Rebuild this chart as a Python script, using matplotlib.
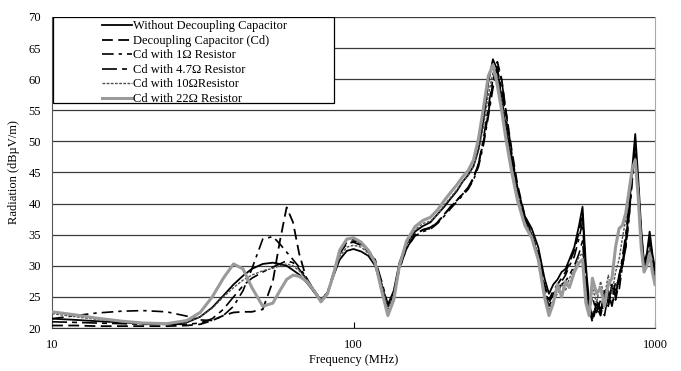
import matplotlib
matplotlib.use('Agg')
import matplotlib.pyplot as plt
from matplotlib.patches import Rectangle

plt.rcParams['font.family'] = ['Liberation Serif', 'DejaVu Serif']

# frequency points (MHz)
freq = [10, 12, 14, 17, 20, 24, 28, 31, 34, 37, 40, 43, 46, 50, 54, 57, 60, 63, 66, 70,
        74, 78, 82, 86, 90, 95, 100, 106, 112, 118, 124, 130, 136, 142, 150, 160, 170, 180,
        190, 200, 210, 220, 230, 240, 250, 260, 270, 280, 290, 300, 310, 320, 335, 350, 370,
        390, 410, 430, 445, 460, 475, 490, 505, 520, 540, 560, 575, 590, 605, 620, 640, 660,
        680, 700, 720, 740, 760, 780, 800, 820, 840, 860, 880, 900, 920, 940, 960, 980, 1000]

# radiation (dBuV/m)
no_cap = [21.5, 21.3, 21.1, 20.9, 20.7, 20.6, 20.9, 21.8, 23.3, 25.2, 27.0, 28.4, 29.5, 30.3, 30.5, 30.3, 30.0, 29.3, 28.6, 27.3,
          25.8, 24.5, 25.6, 28.5, 31.0, 32.4, 32.7, 32.3, 31.6, 30.0, 26.5, 23.7, 26.0, 30.5, 33.5, 35.5, 36.4, 37.0,
          38.3, 39.5, 40.8, 42.0, 43.5, 44.6, 46.0, 48.8, 53.5, 59.5, 63.2, 61.5, 57.0, 52.5, 47.0, 42.5, 38.0,
          36.0, 33.0, 28.0, 25.5, 27.0, 27.8, 29.0, 29.5, 31.0, 33.0, 36.5, 39.5, 30.0, 24.0, 21.5, 24.0, 22.5,
          26.0, 24.0, 27.0, 25.0, 28.5, 30.5, 34.0, 39.0, 45.5, 51.2, 44.0, 36.0, 30.5, 32.0, 35.5, 32.0, 29.5]
cap = [20.4, 20.4, 20.3, 20.3, 20.3, 20.3, 20.4, 20.6, 21.2, 22.0, 22.5, 22.6, 22.6, 23.0, 27.5, 34.0, 39.4, 37.0, 32.0, 27.7,
       25.8, 24.3, 25.5, 28.8, 32.0, 33.6, 33.8, 33.3, 32.3, 30.5, 27.0, 23.5, 25.5, 29.8, 33.0, 35.0, 35.8, 36.0,
       37.0, 38.2, 39.5, 40.5, 41.5, 42.5, 44.0, 46.5, 50.0, 54.5, 59.5, 62.8, 60.0, 55.0, 48.5, 43.0, 38.0,
       35.2, 32.0, 27.0, 24.5, 26.0, 27.0, 28.0, 29.0, 30.5, 32.5, 35.5, 38.5, 29.0, 23.0, 21.0, 23.5, 22.0,
       25.0, 23.5, 26.5, 24.5, 27.5, 30.0, 33.0, 38.0, 44.0, 49.0, 43.0, 35.0, 30.0, 31.5, 34.5, 31.5, 29.0]
r1 = [21.5, 22.0, 22.4, 22.7, 22.8, 22.6, 21.9, 21.3, 21.2, 22.0, 23.5, 26.0, 29.5, 34.3, 34.7, 33.5, 32.2, 31.0, 29.8, 28.0,
      26.0, 24.3, 25.8, 29.0, 32.5, 34.2, 34.3, 33.6, 32.5, 30.8, 27.0, 23.4, 25.2, 29.5, 32.8, 34.8, 35.5, 35.9,
      36.8, 38.0, 39.2, 40.3, 41.3, 42.3, 43.8, 46.0, 49.5, 54.0, 58.5, 62.0, 59.8, 55.0, 48.0, 42.5, 37.5,
      35.0, 31.5, 26.5, 24.0, 25.5, 26.5, 27.5, 28.5, 30.0, 31.5, 34.5, 37.0, 28.0, 22.5, 22.0, 24.5, 23.0,
      24.5, 26.0, 24.0, 27.5, 26.0, 30.0, 33.0, 37.5, 43.5, 48.5, 42.5, 35.0, 30.0, 31.0, 34.0, 31.0, 28.5]
r4_7 = [21.0, 20.9, 20.8, 20.7, 20.6, 20.6, 20.6, 20.8, 21.5, 23.0, 25.0, 26.8, 28.0, 29.0, 29.8, 30.3, 30.8, 30.5, 29.5, 27.8,
        26.0, 24.4, 25.7, 28.8, 32.0, 33.8, 34.0, 33.5, 32.5, 31.0, 27.5, 23.8, 25.5, 29.5, 32.8, 35.0, 35.8, 36.2,
        37.0, 38.3, 39.5, 40.5, 41.6, 42.6, 44.2, 46.5, 50.5, 55.5, 60.0, 61.5, 58.5, 54.0, 47.5, 42.0, 37.5,
        35.0, 31.5, 26.0, 23.5, 25.0, 26.0, 27.0, 27.5, 28.5, 30.0, 32.0, 34.0, 27.0, 23.0, 25.0, 22.5, 24.5,
        22.0, 25.5, 23.5, 26.5, 28.0, 31.5, 35.0, 40.0, 44.5, 48.0, 42.5, 34.5, 29.5, 31.0, 33.5, 30.5, 28.0]
r10 = [22.3, 21.8, 21.4, 21.0, 20.8, 20.7, 21.0, 21.8, 23.2, 25.0, 26.5, 27.7, 28.5, 29.2, 29.6, 30.0, 30.3, 30.0, 29.2, 27.8,
       26.2, 24.6, 25.8, 28.5, 31.5, 33.0, 33.3, 33.0, 32.0, 30.5, 27.0, 23.0, 25.5, 30.0, 33.5, 35.8, 36.8, 37.2,
       38.2, 39.8, 41.0, 42.2, 43.5, 44.5, 46.0, 48.5, 52.5, 57.5, 61.0, 60.5, 56.5, 52.0, 46.0, 41.5, 37.0,
       35.0, 31.5, 26.0, 23.0, 24.5, 25.5, 27.0, 26.0, 28.0, 29.5, 31.5, 32.0, 26.0, 22.0, 26.5, 24.0, 27.5,
       25.0, 28.5, 25.5, 29.0, 31.0, 34.5, 37.5, 41.0, 45.0, 47.5, 42.0, 34.0, 29.5, 30.5, 33.0, 30.0, 28.0]
r22 = [22.6, 22.1, 21.6, 21.1, 20.8, 20.7, 21.2, 22.5, 25.0, 28.0, 30.3, 29.5, 26.5, 23.5, 24.0, 26.0, 27.8, 28.5, 28.3, 27.5,
       26.0, 24.2, 25.5, 28.8, 32.5, 34.3, 34.5, 33.8, 32.5, 30.5, 26.0, 22.0, 24.5, 30.0, 34.0, 36.3, 37.3, 37.8,
       39.0, 40.5, 41.8, 43.0, 44.3, 45.3, 47.0, 50.5, 55.5, 60.5, 62.3, 59.0, 55.0, 50.5, 45.0, 40.5, 36.5,
       34.5, 31.0, 25.0, 22.0, 24.0, 27.0, 25.0, 27.5, 26.5, 29.0, 30.5, 31.0, 24.0, 22.0, 28.0, 25.5, 26.5,
       23.5, 27.0, 28.0, 33.0, 36.0, 36.5, 38.5, 42.0, 45.5, 47.0, 41.0, 33.0, 29.0, 30.0, 32.0, 29.0, 27.0]

labels = ['Without Decoupling Capacitor', 'Decoupling Capacitor (Cd)', 'Cd with 1\u03a9 Resistor',
          'Cd with 4.7\u03a9 Resistor', 'Cd with 10\u03a9Resistor', 'Cd with 22\u03a9 Resistor']
yticks = [20, 25, 30, 35, 40, 45, 50, 55, 60, 65, 70]
xticks = [10, 100, 1000]

fig = plt.figure(figsize=(6.81, 3.71), dpi=100)
ax = fig.add_axes([0.0764, 0.1159, 0.8854, 0.8383])

styles = [
    dict(color='black', lw=1.3, ls='-'),
    dict(color='black', lw=1.3, ls=(0, (6, 3))),
    dict(color='black', lw=1.2, ls=(0, (7, 3, 2, 3))),
    dict(color='black', lw=1.2, ls=(0, (9, 3, 3, 3))),
    dict(color='#505050', lw=1.0, ls=(0, (2, 1))),
    dict(color='#9a9a9a', lw=2.2, ls='-'),
]
series = [no_cap, cap, r1, r4_7, r10, r22]
handles = []
for vals, st, lab in zip(series, styles, labels):
    h, = ax.plot(freq, vals, label=lab, zorder=3, **st)
    handles.append(h)

ax.set_xscale('log')
ax.set_xlim(10, 1000)
ax.set_ylim(20, 70)
ax.set_xticks(xticks)
ax.set_xticklabels([str(t) for t in xticks])
ax.minorticks_off()
ax.set_yticks(yticks)
ax.tick_params(axis='x', direction='in', length=4, pad=8, labelsize=9)
ax.tick_params(axis='y', direction='out', length=0, pad=8, labelsize=9)
for y in yticks:
    ax.axhline(y, color='#3a3a3a', lw=0.9, zorder=1)
ax.spines['top'].set_visible(False)
ax.spines['right'].set_color('#aaaaaa')
ax.spines['left'].set_color('#555555')
ax.spines['bottom'].set_color('#333333')

ax.set_xlabel('Frequency (MHz)', fontsize=9, labelpad=2)
ax.set_ylabel('Radiation (dB\u00b5V/m)', fontsize=9, labelpad=6)

# legend box
ax.add_patch(Rectangle((0.002, 0.7235), 0.466, 0.2765, transform=ax.transAxes,
                       facecolor='white', edgecolor='black', lw=0.9, zorder=4))
leg = ax.legend(handles=handles, loc='upper left', bbox_to_anchor=(0.08, 0.993),
                frameon=False, fontsize=9, handlelength=2.4, handletextpad=0.15,
                labelspacing=0.2, borderpad=0.1, borderaxespad=0)
leg.set_zorder(5)

fig.savefig('out.png', dpi=100)
